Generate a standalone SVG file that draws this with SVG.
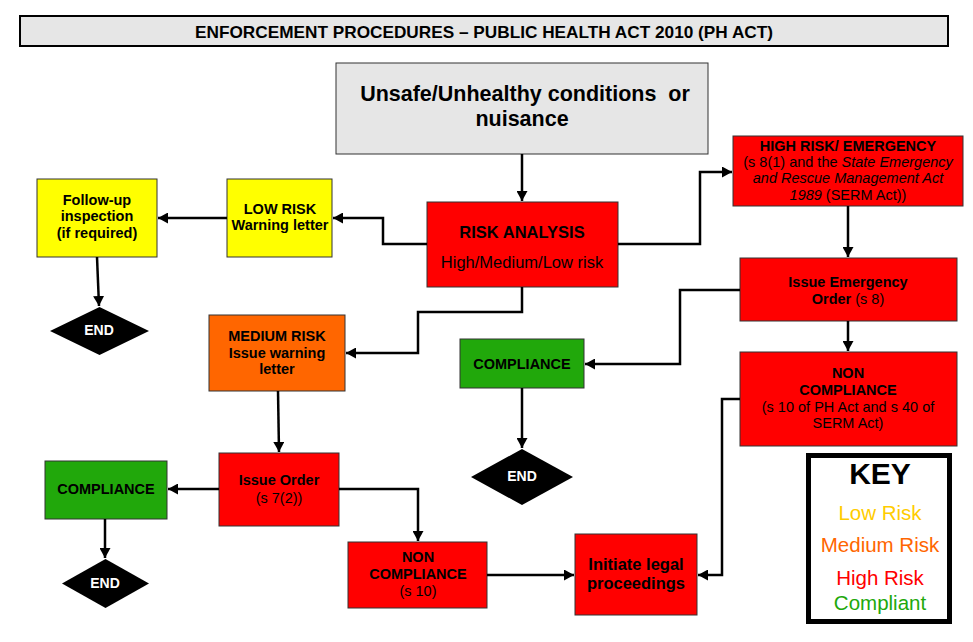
<svg xmlns="http://www.w3.org/2000/svg" width="973" height="642" viewBox="0 0 973 642">
<style>
text{font-family:"Liberation Sans",Arial,sans-serif;text-anchor:middle;fill:#000}
.b{font-weight:bold}
.box{stroke:#333;stroke-width:1}
.red{fill:#ff0000}
.yel{fill:#ffff00}
.org{fill:#ff6600}
.grn{fill:#21a80b}
.gry{fill:#e6e6e6}
.s14{font-size:14.5px}
.end{fill:#000}
.endt{fill:#fff;font-weight:bold;font-size:14px}
.con path{fill:none;stroke:#000;stroke-width:2.5;marker-end:url(#ah)}
.it{font-style:italic}
.n{font-weight:normal}
</style>
<defs>
<marker id="ah" markerUnits="userSpaceOnUse" markerWidth="11" markerHeight="11" refX="10" refY="5.5" orient="auto">
<path d="M0,0 L10,5.5 L0,11 z" fill="#000"/>
</marker>
</defs>
<rect width="973" height="642" fill="#fff"/>

<g id="title">
<rect x="20" y="16" width="928" height="30" fill="#e6e6e6" stroke="#000" stroke-width="2"/>
<text x="484" y="37.5" class="b" font-size="16.5" textLength="578" lengthAdjust="spacingAndGlyphs">ENFORCEMENT PROCEDURES – PUBLIC HEALTH ACT 2010 (PH ACT)</text>
</g>

<g id="conditions">
<rect x="336" y="63" width="372" height="91" class="box gry"/>
<text x="525" y="101" class="b" font-size="21.5" xml:space="preserve">Unsafe/Unhealthy conditions  or</text>
<text x="522" y="126" class="b" font-size="21.5">nuisance</text>
</g>

<g id="risk-analysis">
<rect x="427" y="202" width="191" height="85" class="box red"/>
<text x="522" y="238" class="b" font-size="16.5">RISK ANALYSIS</text>
<text x="522" y="268" font-size="16.5">High/Medium/Low risk</text>
</g>

<g id="low-risk">
<rect x="227" y="179" width="105" height="78" class="box yel"/>
<text x="280" y="214" class="b s14">LOW RISK</text>
<text x="280" y="230" class="b s14">Warning letter</text>
</g>

<g id="follow-up">
<rect x="37" y="179" width="120" height="78" class="box yel"/>
<text x="97" y="205" class="b s14">Follow-up</text>
<text x="97" y="221" class="b s14">inspection</text>
<text x="97" y="238" class="b s14">(if required)</text>
</g>

<g id="end1">
<polygon points="50,331 99.5,307 149,331 99.5,355" class="end"/>
<text x="99" y="335" class="endt">END</text>
</g>

<g id="medium-risk">
<rect x="209" y="315" width="136" height="76" class="box org"/>
<text x="277" y="341" class="b s14">MEDIUM RISK</text>
<text x="277" y="358" class="b s14">Issue warning</text>
<text x="277" y="374" class="b s14">letter</text>
</g>

<g id="issue-order">
<rect x="219" y="453" width="120" height="73" class="box red"/>
<text x="279" y="485" class="b s14">Issue Order</text>
<text x="279" y="503" class="s14">(s 7(2))</text>
</g>

<g id="compliance-left">
<rect x="45" y="461" width="122" height="58" class="box grn"/>
<text x="106" y="494" class="b s14">COMPLIANCE</text>
</g>

<g id="end3">
<polygon points="62,583.5 105.5,559 149,583.5 105.5,608" class="end"/>
<text x="105" y="588" class="endt">END</text>
</g>

<g id="non-compliance-bottom">
<rect x="348" y="542" width="139" height="66" class="box red"/>
<text x="418" y="562" class="b s14">NON</text>
<text x="418" y="579" class="b s14">COMPLIANCE</text>
<text x="418" y="596" class="s14">(s 10)</text>
</g>

<g id="legal">
<rect x="575" y="534" width="122" height="81" class="box red"/>
<text x="636" y="570" class="b" font-size="16.5">Initiate legal</text>
<text x="636" y="589" class="b" font-size="16.5">proceedings</text>
</g>

<g id="high-risk">
<rect x="733" y="136" width="230" height="70" class="box red"/>
<text x="848" y="151" class="b s14">HIGH RISK/ EMERGENCY</text>
<text x="848" y="167" class="s14">(s 8(1) and the <tspan class="it">State Emergency</tspan></text>
<text x="848" y="183" class="s14 it">and Rescue Management Act</text>
<text x="848" y="200" class="s14"><tspan class="it">1989</tspan> (SERM Act))</text>
</g>

<g id="emergency-order">
<rect x="740" y="258" width="217" height="63" class="box red"/>
<text x="848" y="287" class="b s14">Issue Emergency</text>
<text x="848" y="304" class="b s14">Order<tspan class="n"> (s 8)</tspan></text>
</g>

<g id="non-compliance-right">
<rect x="740" y="352" width="217" height="94" class="box red"/>
<text x="848" y="378" class="b s14">NON</text>
<text x="848" y="395" class="b s14">COMPLIANCE</text>
<text x="848" y="412" class="s14">(s 10 of PH Act and s 40 of</text>
<text x="848" y="428" class="s14">SERM Act)</text>
</g>

<g id="compliance-mid">
<rect x="460" y="339" width="124" height="49" class="box grn"/>
<text x="522" y="369" class="b s14">COMPLIANCE</text>
</g>

<g id="end2">
<polygon points="471,477 522,449 573,477 522,505" class="end"/>
<text x="522" y="481" class="endt">END</text>
</g>

<g id="key">
<rect x="808.5" y="455.5" width="141" height="166" fill="#fff" stroke="#000" stroke-width="5"/>
<text x="880" y="484" class="b" font-size="30">KEY</text>
<text x="880" y="520" font-size="20.5" style="fill:#ffcc00">Low Risk</text>
<text x="880" y="552" font-size="20.5" style="fill:#ff6600">Medium Risk</text>
<text x="880" y="585" font-size="20.5" style="fill:#ff0000">High Risk</text>
<text x="880" y="610" font-size="20.5" style="fill:#21a80b">Compliant</text>
</g>

<g id="connectors" class="con">
<path d="M522,154 V201"/>
<path d="M427,244 H383 V218 H333"/>
<path d="M227,218 H158"/>
<path d="M97,257 L99,306"/>
<path d="M618,244 H700 V172 H732"/>
<path d="M522,287 V312 H418 V353 H346"/>
<path d="M848,206 V257"/>
<path d="M848,321 V351"/>
<path d="M740,290 H680 V364 H585"/>
<path d="M522,388 V448"/>
<path d="M278,391 L279,452"/>
<path d="M219,489 H168"/>
<path d="M105,519 V558"/>
<path d="M339,489 H418 V541"/>
<path d="M487,575 H574"/>
<path d="M740,399 H722 V575 H698"/>
</g>
</svg>
